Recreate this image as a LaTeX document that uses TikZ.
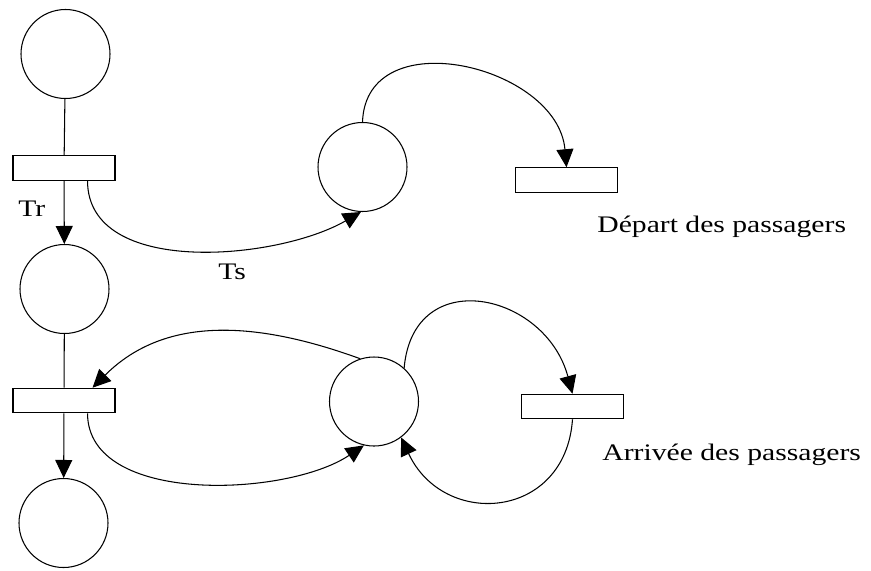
\documentclass[tikz,border=0pt]{standalone}
\usepackage{fontspec}
\setmainfont{Liberation Serif}[FakeStretch=1.25]
\usetikzlibrary{positioning,arrows.meta}

\tikzset{
  place/.style={draw,circle,minimum size=1.78cm,inner sep=0pt,line width=0.6pt},
  transition/.style={draw,rectangle,minimum width=2.04cm,minimum height=0.49cm,inner sep=0pt,line width=0.6pt},
  arc/.style={line width=0.6pt},
  tokenarc/.style={arc,-{Triangle[length=3.6mm,width=3.4mm]}},
  label/.style={inner sep=0pt,font=\fontsize{13.5}{16}\selectfont}
}

\begin{document}
\begin{tikzpicture}
\useasboundingbox (0,0) rectangle (17.42,-11.4);
\node [place] (p1) at (1.31,-1.08) {};
\node [transition] (t1) at (1.28,-3.36) {};
\node [place] (p2) at (1.29,-5.78) {};
\node [transition] (t2) at (1.28,-8.01) {};
\node [place] (p3) at (1.27,-10.46) {};
\node [place] (p4) at (7.25,-3.34) {};
\node [transition] (t3) at (11.33,-3.6) {};
\node [place] (p5) at (7.48,-8.03) {};
\node [transition] (t4) at (11.45,-8.13) {};
\node [label,anchor=base west] (tr) at (0.36,-4.32) {Tr};
\node [label,anchor=base west] (ts) at (4.36,-5.58) {Ts};
\node [label,anchor=base west] (depart) at (11.94,-4.65) {Départ des passagers};
\node [label,anchor=base west] (arrivee) at (12.04,-9.21) {Arrivée des passagers};
\draw [arc] (p1) -- (t1);
\draw [tokenarc] (t1) -- (p2);
\draw [arc] (p2) -- (t2);
\draw [tokenarc] (t2) -- (p3);
\draw [tokenarc] ([xshift=-0.56cm]t1.south east) to[out=-90,in=210,looseness=0.9] (p4.-92);
\draw [tokenarc] (p4.north) to[out=88,in=95,looseness=1.25] (t3.north);
\draw [tokenarc] (p5.108) to[out=160,in=45] ([xshift=-0.46cm]t2.north east);
\draw [tokenarc] ([xshift=-0.56cm]t2.south east) to[out=-90,in=214,looseness=0.85] (p5.-103);
\draw [tokenarc] (p5.48) to[out=85,in=105,looseness=1.58] (t4.north);
\draw [tokenarc] (t4.south) to[out=-94,in=-65,looseness=1.5] (p5.-53);
\end{tikzpicture}
\end{document}
